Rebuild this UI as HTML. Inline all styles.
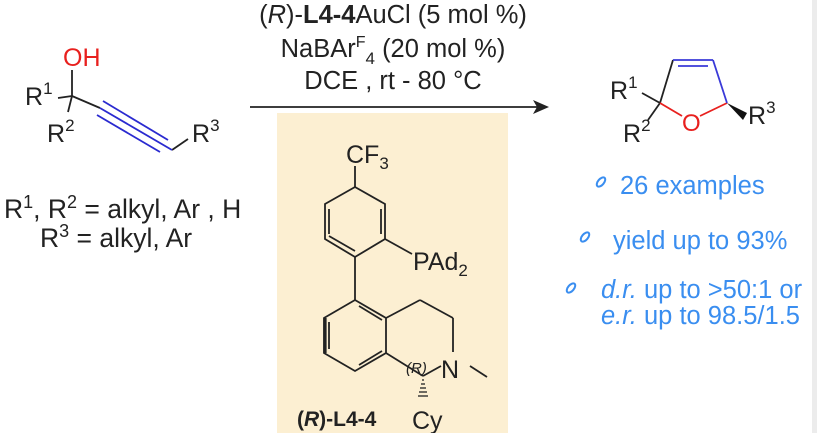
<!DOCTYPE html>
<html><head><meta charset="utf-8"><style>
html,body{margin:0;padding:0;background:#fff}
svg{display:block}
text{font-family:"Liberation Sans",Arial,sans-serif}
</style></head><body>
<svg width="817" height="433" viewBox="0 0 817 433" xmlns="http://www.w3.org/2000/svg">
<rect x="0" y="0" width="817" height="433" fill="#fff"/>
<rect x="812" y="0" width="5" height="433" fill="#ececec"/>
<rect x="277" y="113" width="231" height="320" fill="#fcefd2"/>
<!-- conditions -->
<g font-size="25.5" fill="#222" text-anchor="middle">
<text x="393" y="23">(<tspan font-style="italic">R</tspan>)-<tspan font-weight="bold">L4-4</tspan>AuCl (5 mol %)</text>
<text x="393" y="57">NaBAr<tspan font-size="16" dy="-10">F</tspan><tspan font-size="17" dy="17">4</tspan><tspan dy="-7"> (20 mol %)</tspan></text>
<text x="393" y="89">DCE , rt - 80 °C</text>
</g>
<line x1="250" y1="107" x2="538" y2="107" stroke="#222" stroke-width="1.8"/>
<polygon points="549,107 533,100 537,107 533,114" fill="#222"/>
<!-- starting material -->
<g stroke="#222" stroke-width="1.8" fill="none">
<line x1="72" y1="70" x2="72" y2="96"/>
<line x1="58" y1="98" x2="72" y2="96"/>
<line x1="72" y1="96" x2="68" y2="112"/>
<line x1="72" y1="96" x2="100" y2="108"/>
<line x1="172" y1="150" x2="188" y2="139"/>
</g>
<g stroke="#2a2ad0" stroke-width="1.8">
<line x1="100" y1="108" x2="172" y2="150"/>
<line x1="103" y1="101" x2="168" y2="140"/>
<line x1="97" y1="115" x2="160" y2="152"/>
</g>
<text x="63" y="66" font-size="25" fill="#e8201e">OH</text>
<g font-size="25" fill="#222">
<text x="25" y="105">R<tspan font-size="17" dy="-11">1</tspan></text>
<text x="47" y="142">R<tspan font-size="17" dy="-11">2</tspan></text>
<text x="192" y="142">R<tspan font-size="17" dy="-11">3</tspan></text>
</g>
<g font-size="26.5" fill="#222">
<text x="4" y="218">R<tspan font-size="18" dy="-10">1</tspan><tspan dy="10">, R</tspan><tspan font-size="18" dy="-10">2</tspan><tspan dy="10"> = alkyl, Ar , H</tspan></text>
<text x="40" y="247">R<tspan font-size="18" dy="-10">3</tspan><tspan dy="10"> = alkyl, Ar</tspan></text>
</g>
<!-- ligand -->
<g stroke="#222" stroke-width="1.8" fill="none">
<line x1="355" y1="166" x2="355" y2="187"/>
<polygon points="355,187 385,204 385,239 355,257 325,239 325,204"/>
<line x1="381" y1="209" x2="381" y2="234"/>
<line x1="329" y1="209" x2="329" y2="234" />
<line x1="355" y1="251" x2="329" y2="236"/>
<line x1="385" y1="239" x2="412" y2="254"/>
<line x1="355" y1="257" x2="355" y2="300"/>
<polygon points="355,300 386,318 386,353 355,371 324,353 324,318"/>
<line x1="359" y1="306" x2="382" y2="320"/>
<line x1="359" y1="365" x2="382" y2="351"/>
<line x1="386" y1="318" x2="420" y2="300"/>
<line x1="420" y1="300" x2="453" y2="318"/>
<line x1="453" y1="318" x2="453" y2="352"/>
<line x1="386" y1="353" x2="423" y2="376"/>
<line x1="423" y1="376" x2="441" y2="366"/>
<line x1="470" y1="366" x2="487" y2="377"/>
</g>
<line x1="325" y1="318" x2="325" y2="353" stroke="#222" stroke-width="3.2"/>
<line x1="329" y1="322" x2="329" y2="349" stroke="#222" stroke-width="1.8"/>
<g stroke="#222" stroke-width="1.3">
<line x1="422" y1="380" x2="424" y2="380"/>
<line x1="421" y1="384" x2="425" y2="384"/>
<line x1="420" y1="388" x2="426" y2="388"/>
<line x1="419" y1="392" x2="427" y2="392"/>
<line x1="418" y1="396" x2="428" y2="396"/>
</g>
<g fill="#222">
<text x="346" y="163" font-size="25">CF<tspan font-size="17" dy="6">3</tspan></text>
<text x="413" y="270" font-size="25">PAd<tspan font-size="17" dy="6">2</tspan></text>
<text x="441" y="378" font-size="25">N</text>
<text x="406" y="373" font-size="15" font-style="italic">(R)</text>
<text x="412" y="429" font-size="25">Cy</text>
<text x="297" y="426" font-size="21" font-weight="bold">(<tspan font-style="italic">R</tspan>)-L4-4</text>
</g>
<!-- product -->
<g stroke-width="1.8" fill="none">
<line x1="642" y1="93" x2="660" y2="103" stroke="#222"/>
<line x1="660" y1="103" x2="648" y2="120" stroke="#222"/>
<line x1="660" y1="103" x2="673" y2="60" stroke="#222"/>
<line x1="660" y1="103" x2="682" y2="116" stroke="#e8201e"/>
<line x1="700" y1="116" x2="727" y2="103" stroke="#e8201e"/>
<line x1="673" y1="60" x2="713" y2="60" stroke="#3a3ad8"/>
<line x1="678" y1="66" x2="708" y2="66" stroke="#3a3ad8"/>
<line x1="713" y1="60" x2="727" y2="103" stroke="#3a3ad8"/>
</g>
<polygon points="727,103 747,113 743,120" fill="#111"/>
<text x="682" y="131" font-size="24" fill="#e8201e">O</text>
<g font-size="25" fill="#222">
<text x="610" y="99">R<tspan font-size="17" dy="-11">1</tspan></text>
<text x="623" y="142">R<tspan font-size="17" dy="-11">2</tspan></text>
<text x="748" y="124">R<tspan font-size="17" dy="-11">3</tspan></text>
</g>
<!-- bullets -->
<g fill="none" stroke="#3a8ef0" stroke-width="2">
<ellipse cx="601" cy="182" rx="3" ry="5.5" transform="rotate(40 601 182)"/>
<ellipse cx="585" cy="237" rx="3" ry="5.5" transform="rotate(40 585 237)"/>
<ellipse cx="571" cy="288" rx="3" ry="5.5" transform="rotate(40 571 288)"/>
</g>
<g font-size="25.5" fill="#3a8ef0">
<text x="620" y="194">26 examples</text>
<text x="613" y="249">yield up to 93%</text>
<text x="601" y="298"><tspan font-style="italic">d.r.</tspan> up to &gt;50:1 or</text>
<text x="601" y="324"><tspan font-style="italic">e.r.</tspan> up to 98.5/1.5</text>
</g>
</svg>
</body></html>
